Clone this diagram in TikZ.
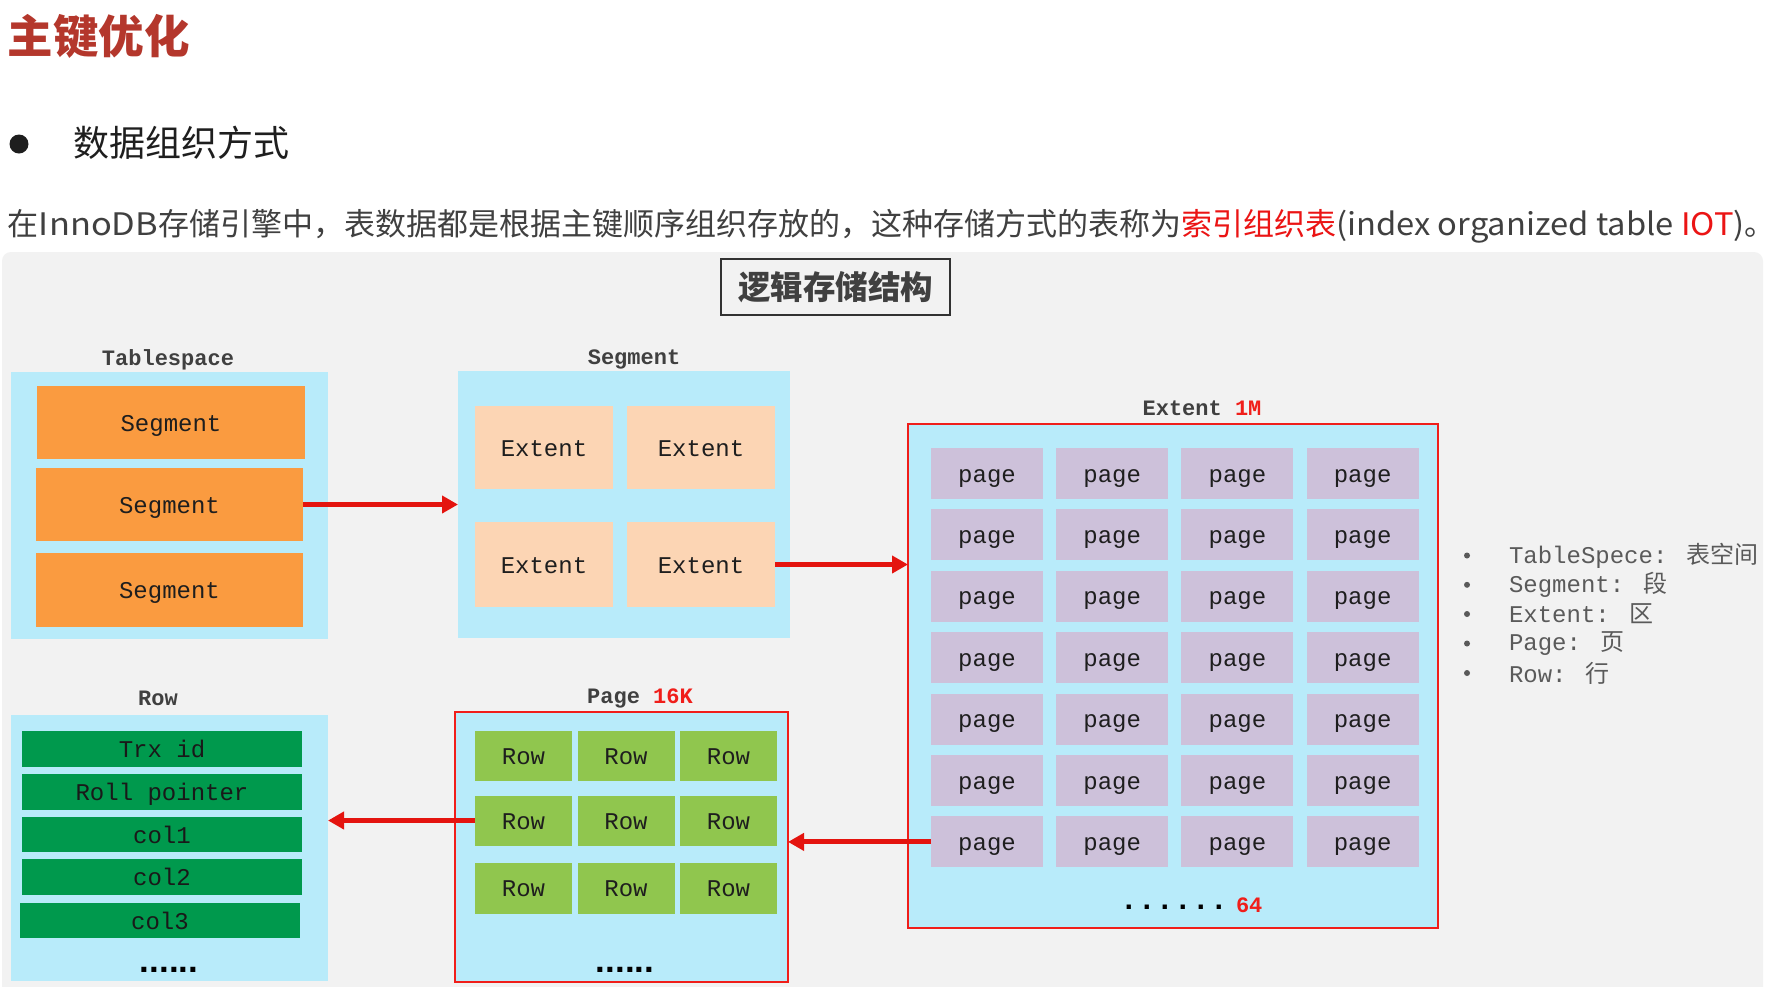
\documentclass[tikz,border=0pt]{standalone}
\usepackage{fontspec}
\usetikzlibrary{arrows.meta}
\newfontfamily\cjk{Noto Sans CJK SC}
\newfontfamily\mono{Liberation Mono}
\newfontfamily\dotfont{Liberation Sans}
\definecolor{panel}{RGB}{242,242,242}
\definecolor{skyb}{RGB}{184,235,250}
\definecolor{orangeS}{RGB}{250,155,64}
\definecolor{peach}{RGB}{252,213,180}
\definecolor{lav}{RGB}{205,193,218}
\definecolor{lgreen}{RGB}{144,198,78}
\definecolor{dgreen}{RGB}{0,153,77}
\definecolor{redB}{RGB}{240,30,26}
\definecolor{redA}{RGB}{228,20,15}
\definecolor{hred}{RGB}{235,20,20}
\definecolor{titred}{RGB}{180,55,44}
\definecolor{txt}{RGB}{64,64,64}
\definecolor{boxtxt}{RGB}{30,30,30}
\definecolor{legtxt}{RGB}{90,90,90}
\definecolor{frame}{RGB}{50,50,50}
\begin{document}
\begin{tikzpicture}[x=1pt,y=-1pt,
  every node/.style={inner sep=0pt, outer sep=0pt},
  blk/.style={rectangle, anchor=north west, text=boxtxt, text height=18pt, text depth=1pt,
    font=\mono\fontsize{24}{28}\selectfont},
  bluebox/.style={blk, fill=skyb},
  redbox/.style={blk, fill=skyb, draw=redB, line width=2.2pt},
  segcell/.style={blk, fill=orangeS},
  extcell/.style={blk, fill=peach},
  pagecell/.style={blk, fill=lav, minimum width=112pt, minimum height=51pt},
  rowcell/.style={blk, fill=lgreen, minimum width=97pt},
  fieldcell/.style={blk, fill=dgreen, text=black!90, minimum width=280pt},
  lbl/.style={text=txt, font=\mono\bfseries\fontsize{22}{26}\selectfont},
  legend/.style={anchor=west, text=legtxt, font=\mono\fontsize{24}{28}\selectfont},
  redarrow/.style={draw=redA, line width=5pt, -{Triangle[length=16pt,width=17pt]}},
  dots/.style={text=black, font=\dotfont\bfseries\fontsize{35}{40}\selectfont}
]
\useasboundingbox (0,0) rectangle (1777,986);
\fill[white] (0,0) rectangle (1777,986);
\begin{scope}
\clip (0,0) rectangle (1777,986);
\fill[panel, rounded corners=9pt] (2,252) rectangle (1763,1010);
\end{scope}

% header
\node[anchor=west, text=titred, font=\cjk\bfseries\fontsize{45.5}{52}\selectfont] (title) at (8,36) {主键优化};
\fill[boxtxt] (19,144) circle (9.5);
\node[anchor=west, text=boxtxt, font=\cjk\fontsize{36}{42}\selectfont] (sub) at (73,143) {数据组织方式};
\node[anchor=west, text=txt, font=\cjk\fontsize{31}{36}\selectfont] (intro) at (8,226)
  {在\scalebox{1.11}[1]{InnoDB}存储引擎中，表数据都是根据主键顺序组织存放的，这种存储方式的表称为\textcolor{hred}{索引组织表}\scalebox{1.055}[1]{(index organized table \textcolor{hred}{IOT})}。};

% title box
\node[anchor=north west, draw=frame, line width=1.6pt, fill=panel, minimum width=229pt, minimum height=56pt,
  text=txt, font=\cjk\bfseries\fontsize{32.5}{38}\selectfont] (hdr) at (721,259) {逻辑存储结构};

% Tablespace
\node[lbl] (tslbl) at (168,360) {Tablespace};
\node[bluebox, minimum width=317pt, minimum height=267pt] (tsbox) at (11,372) {};
\node[segcell, minimum width=268pt, minimum height=73pt] (seg1) at (37,386) {Segment};
\node[segcell, minimum width=267pt, minimum height=73pt] (seg2) at (36,468) {Segment};
\node[segcell, minimum width=267pt, minimum height=74pt] (seg3) at (36,553) {Segment};

% Segment
\node[lbl] (seglbl) at (634,359) {Segment};
\node[bluebox, minimum width=332pt, minimum height=267pt] (segbox) at (458,371) {};
\node[extcell, minimum width=138pt, minimum height=83pt] (ext1) at (475,406) {Extent};
\node[extcell, minimum width=148pt, minimum height=83pt] (ext2) at (627,406) {Extent};
\node[extcell, minimum width=138pt, minimum height=85pt] (ext3) at (475,522) {Extent};
\node[extcell, minimum width=148pt, minimum height=85pt] (ext4) at (627,522) {Extent};

% Extent
\node[lbl] (extlbl) at (1202,408) {Extent \textcolor{redB}{1M}};
\node[redbox, minimum width=530pt, minimum height=504pt] (extbox) at (908,424) {};
\foreach \r in {0,...,6} {
  \foreach \c in {0,...,3} {
    \node[pagecell] (p\r\c) at ({931+125.2*\c},{448+61.4*\r}) {page};
  }
}
\node[text=black, font=\mono\bfseries\fontsize{30}{34}\selectfont, anchor=east] (edots) at (1228,907) {......};
\node[text=redB, font=\mono\bfseries\fontsize{22}{26}\selectfont, anchor=west] (e64) at (1236,905) {64};

% Page
\node[lbl] (pglbl) at (640,698) {Page \textcolor{redB}{16K}};
\node[redbox, minimum width=333pt, minimum height=270pt] (pgbox) at (455,712) {};
\node[rowcell, minimum height=50pt] (r11) at (475,731) {Row};
\node[rowcell, minimum height=50pt] (r12) at (577.5,731) {Row};
\node[rowcell, minimum height=50pt] (r13) at (680,731) {Row};
\node[rowcell, minimum height=50pt] (r21) at (475,795.5) {Row};
\node[rowcell, minimum height=50pt] (r22) at (577.5,795.5) {Row};
\node[rowcell, minimum height=50pt] (r23) at (680,795.5) {Row};
\node[rowcell, minimum height=51pt] (r31) at (475,862.5) {Row};
\node[rowcell, minimum height=51pt] (r32) at (577.5,862.5) {Row};
\node[rowcell, minimum height=51pt] (r33) at (680,862.5) {Row};
\node[dots] (pdots) at (625,970) {......};

% Row
\node[lbl] (rowlbl) at (158,698) {Row};
\node[bluebox, minimum width=317pt, minimum height=266pt] (rowbox) at (11,715) {};
\node[fieldcell, minimum height=36pt] (f1) at (22,731) {Trx id};
\node[fieldcell, minimum height=36pt] (f2) at (22,774) {Roll pointer};
\node[fieldcell, minimum height=35pt] (f3) at (22,817) {col1};
\node[fieldcell, minimum height=36pt] (f4) at (22,859) {col2};
\node[fieldcell, minimum height=35pt] (f5) at (20,903) {col3};
\node[dots] (rdots) at (169,970) {......};

% arrows
\draw[redarrow] (seg2.east) -- (segbox.west);
\draw[redarrow] (ext4.east) -- (ext4.east -| extbox.west);
\draw[redarrow] (p60.west) -- (p60.west -| pgbox.east);
\draw[redarrow] (r21.west) -- (r21.west -| rowbox.east);

% legend
\foreach \i/\y in {1/555.5,2/584.8,3/614,4/643.5,5/673} {
  \fill[legtxt] (1467,\y) circle (3);
}
\node[legend] (l1) at (1509,555.5) {TableSpece: {\cjk 表空间}};
\node[legend] (l2) at (1509,584.8) {Segment: {\cjk 段}};
\node[legend] (l3) at (1509,614) {Extent: {\cjk 区}};
\node[legend] (l4) at (1509,643.5) {Page: {\cjk 页}};
\node[legend] (l5) at (1509,673) {Row: {\cjk 行}};
\end{tikzpicture}
\end{document}
